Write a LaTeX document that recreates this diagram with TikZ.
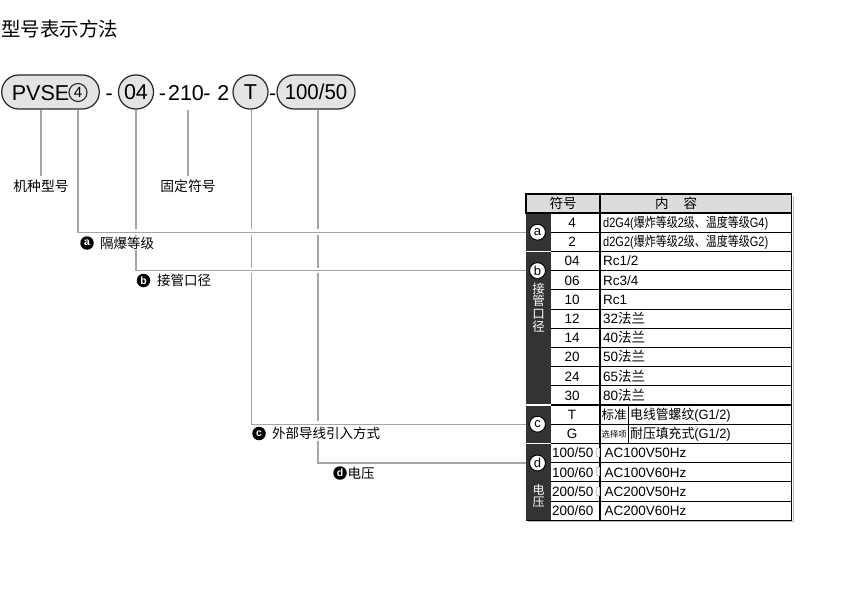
\documentclass[tikz,border=0pt]{standalone}
\usepackage{fontspec}
\setmainfont{Liberation Sans}
\newfontfamily\cjk{Noto Sans CJK SC}
\usetikzlibrary{backgrounds}
\definecolor{leadc}{HTML}{A5A5A5}
\definecolor{capfill}{HTML}{E4E4E4}
\definecolor{capline}{HTML}{262626}
\definecolor{darkcol}{HTML}{333333}
\definecolor{hdrfill}{HTML}{DCDCDC}
\newcommand{\myfs}[1]{\fontsize{#1}{#1}\selectfont}
\newcommand{\zh}[1]{{\cjk #1}}
\begin{document}
\begin{tikzpicture}[x=1pt,y=-1pt,
  capsule/.style={draw=capline, fill=capfill, line width=1.2pt, rounded corners=17pt,
    minimum height=34pt, inner sep=0pt, font=\myfs{21.5}},
  codetxt/.style={inner sep=0pt, font=\myfs{21.5}, anchor=base},
  lbl/.style={font=\cjk\myfs{13.5}, inner xsep=2pt, inner ysep=1pt},
  toplbl/.style={font=\cjk\myfs{13.8}, inner xsep=2pt, inner ysep=3.5pt},
  cover/.style={fill=white},
  leader/.style={draw=leadc, line width=1.3pt, preaction={draw=white, line width=5.5pt}},
  stem/.style={draw=leadc, line width=1.3pt},
  bul/.style={circle, fill=black, text=white, minimum size=13.5pt, inner sep=0pt, font=\bfseries\myfs{10.5}},
  tcirc/.style={circle, draw=black, fill=white, line width=1pt, minimum size=16pt, inner sep=0pt, font=\myfs{13}},
  symt/.style={font=\myfs{13.5}, inner sep=0pt, anchor=base},
  cont/.style={font=\myfs{13.5}, inner sep=0pt, anchor=base west},
  thinrow/.style={line width=1pt},
  thickrow/.style={line width=1.6pt}
]
\useasboundingbox (0,0) rectangle (850,591);

% title
\node[anchor=west, inner sep=0pt, font=\cjk\myfs{19.5}] (title) at (1,29.5) {型号表示方法};

% model code
\node[capsule, minimum width=97.6pt] (pv) at (50.5,92) {};
\node[codetxt, anchor=base west] (pvt) at (11.7,100.7) {PVSE};
\node[circle, draw=capline, line width=1.1pt, minimum size=18pt, inner sep=0pt, font=\myfs{15}] (c4) at (78,92.5) {4};
\node[codetxt] (dA) at (109.3,100.7) {-};
\node[capsule, minimum width=35pt] (p04) at (136,92) {04};
\node[codetxt] (dB) at (162.5,100.7) {-};
\node[codetxt] (t210) at (186,100.7) {210};
\node[codetxt] (dC) at (207,100.7) {-};
\node[codetxt] (t2) at (223.3,100.7) {2};
\node[capsule, minimum width=35pt] (pT) at (250.5,92) {T};
\node[codetxt] (dD) at (272.7,100.7) {-};
\node[capsule, minimum width=78pt] (p100) at (316,92) {\scalebox{0.95}[1]{100/50}};

% labels under the code
\node[toplbl] (lb1) at (41,186.5) {机种型号};
\node[toplbl] (lb2) at (188,186.5) {固定符号};

\node[lbl, cover, anchor=west] (la) at (98,243) {隔爆等级};
\node[bul] (ba) at (87,243) {a};
\node[lbl, anchor=west] (lb) at (155,280.5) {接管口径};
\node[bul] (bb) at (143.5,280.5) {b};
\node[lbl, cover, anchor=west] (lc) at (270,433.5) {外部导线引入方式};
\node[bul] (bc) at (259,433.5) {c};
\node[lbl, anchor=west] (ld) at (345.5,473) {电压};
\node[bul] (bd) at (340,473) {d};

% table: dark column
\fill[darkcol] (526,213) rectangle (551,250.6);
\fill[darkcol] (526,252.2) rectangle (551,404.2);
\fill[darkcol] (526,405.8) rectangle (551,442.6);
\fill[darkcol] (526,444.2) rectangle (551,520.2);
% header
\draw[fill=hdrfill, line width=1.1pt] (526,194) rectangle (791.5,213);
\node[font=\cjk\myfs{13.5}, inner sep=0pt] (h1) at (563,203.5) {符号};
\node[font=\cjk\myfs{13.5}, inner sep=0pt] (h2) at (676,203.5) {内\hskip15pt 容};
% rows
\foreach \yy in {232.2,270.6,289.8,309,328.2,347.4,366.6,385.8,424.2,462.6,481.8,501}
  \draw[thinrow] (551,\yy) -- (791.5,\yy);
\foreach \yy in {251.4,405,443.4}
  \draw[thickrow] (551,\yy) -- (791.5,\yy);
\draw[line width=1.3pt] (600,194) -- (600,520.2);
\draw[thinrow] (628,405) -- (628,443.4);
\draw[gray!55, line width=1pt] (793,195.5) -- (793,521.7) -- (527.5,521.7);
\draw[line width=1.3pt] (791.5,194) -- (791.5,520.2) -- (526,520.2);

% group a
\node[symt] (s1) at (572,227.5) {4};
\node[cont] (t1) at (603,227.5) {\scalebox{0.815}[1]{d2G4(\zh{爆炸等级}2\zh{级、温度等级}G4)}};
\node[symt] (s2) at (572,246.7) {2};
\node[cont] (t2r) at (603,246.7) {\scalebox{0.815}[1]{d2G2(\zh{爆炸等级}2\zh{级、温度等级}G2)}};
% group b
\node[symt] (s3) at (572,265.9) {04};
\node[cont] (t3) at (603,265.9) {Rc1/2};
\node[symt] (s4) at (572,285.1) {06};
\node[cont] (t4) at (603,285.1) {Rc3/4};
\node[symt] (s5) at (572,304.3) {10};
\node[cont] (t5) at (603,304.3) {Rc1};
\node[symt] (s6) at (572,323.5) {12};
\node[cont] (t6) at (603,323.5) {32\zh{法兰}};
\node[symt] (s7) at (572,342.7) {14};
\node[cont] (t7) at (603,342.7) {40\zh{法兰}};
\node[symt] (s8) at (572,361.9) {20};
\node[cont] (t8) at (603,361.9) {50\zh{法兰}};
\node[symt] (s9) at (572,381.1) {24};
\node[cont] (t9) at (603,381.1) {65\zh{法兰}};
\node[symt] (s10) at (572,400.3) {30};
\node[cont] (t10) at (603,400.3) {80\zh{法兰}};
% group c
\node[symt] (s11) at (572,419.5) {T};
\node[cont, font=\cjk\myfs{12.5}] (n11) at (601.5,419.5) {标准};
\node[cont] (t11) at (630,419.5) {\scalebox{0.95}[1]{\zh{电线管螺纹}(G1/2)}};
\node[symt] (s12) at (572,438.7) {G};
\node[cont, font=\cjk\myfs{8.3}] (n12) at (601.5,437.2) {选择项};
\node[cont] (t12) at (630,438.7) {\scalebox{0.95}[1]{\zh{耐压填充式}(G1/2)}};
% group d
\node[cont] (s13) at (552,457.9) {100/50};
\node[cont] (t13) at (604.5,457.9) {AC100V50Hz};
\node[cont] (s14) at (552,477.1) {100/60};
\node[cont] (t14) at (604.5,477.1) {AC100V60Hz};
\node[cont] (s15) at (552,496.3) {200/50};
\node[cont] (t15) at (604.5,496.3) {AC200V50Hz};
\node[cont] (s16) at (552,515.5) {200/60};
\node[cont] (t16) at (604.5,515.5) {AC200V60Hz};
\foreach \yy in {453,472.2,491.4}
  \draw[gray!45, line width=0.5pt] (596,\yy-4.5) rectangle (598.8,\yy+3.5);

% vertical captions in dark column
\node[font=\cjk\fontsize{12.5}{12.6}\selectfont, text=white, align=center, inner sep=0pt] (vb) at (538.5,307.5) {接\\管\\口\\径};
\node[font=\cjk\fontsize{12}{11.5}\selectfont, text=white, align=center, inner sep=0pt] (vd) at (538.5,495.8) {电\\压};

% table circles
\node[tcirc] (ca) at (537.5,232.2) {a};
\node[tcirc] (cb) at (537.5,270.6) {b};
\node[tcirc] (cc) at (537.5,424.2) {c};
\node[tcirc] (cd) at (537.5,463) {d};

% leaders
\begin{scope}[on background layer]
\draw[stem] (lb1.north |- pv.south) -- (lb1.north);
\draw[stem] (lb2.north |- pv.south) -- (lb2.north);
\draw[leader] ([xshift=2pt]p100.south) |- (cd);
\draw[leader] ([xshift=1.2pt]pT.south) |- (cc);
\draw[leader] (p04.south) |- (cb);
\draw[leader] (c4 |- pv.south) |- (ca);
\end{scope}
\end{tikzpicture}
\end{document}
